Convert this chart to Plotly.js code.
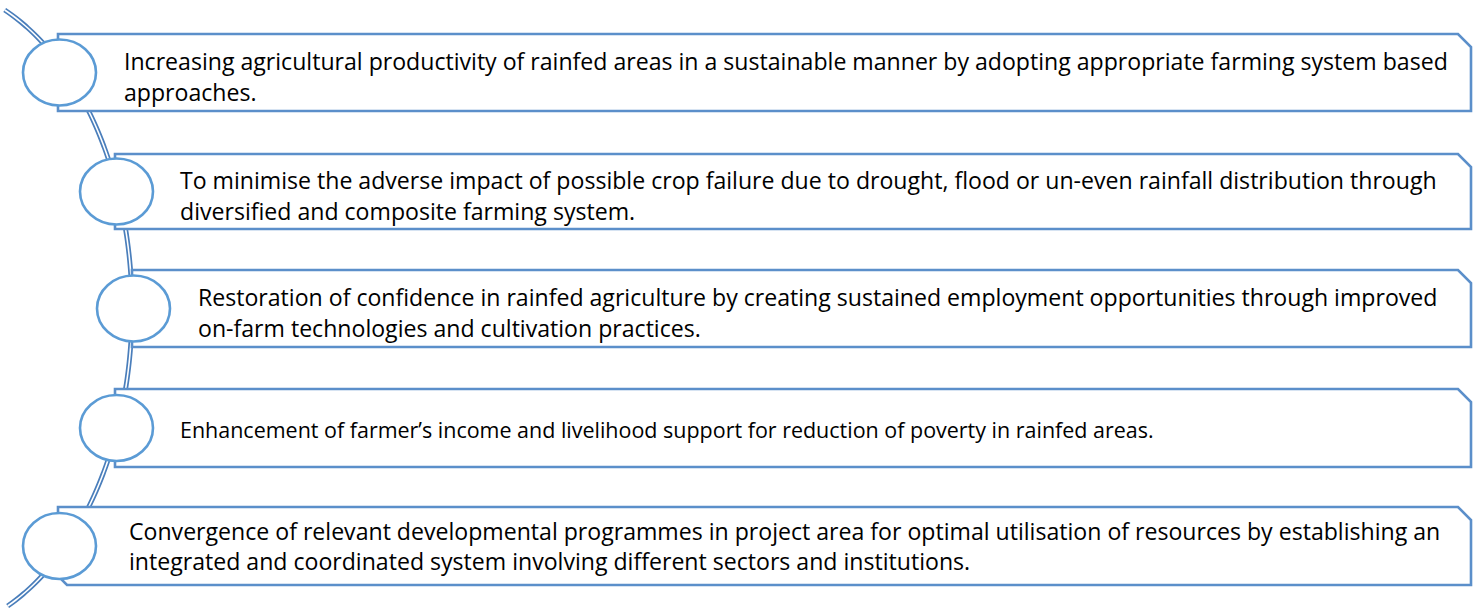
<!DOCTYPE html>
<html>
<head>
<meta charset="utf-8">
<script src="https://cdn.plot.ly/plotly-3.0.1.min.js"></script>
<style>html,body{margin:0;padding:0;background:#fff;}#chart{width:1476px;height:610px;}</style>
</head>
<body>
<div id="chart"></div>
<script>
// ---- Content (text of each objective, one entry per displayed line) ----
const objective1 = ["Increasing agricultural productivity of rainfed areas in a sustainable manner by adopting appropriate farming system based", "approaches."];
const objective2 = ["To minimise the adverse impact of possible crop failure due to drought, flood or un-even rainfall distribution through", "diversified and composite farming system."];
const objective3 = ["Restoration of confidence in rainfed agriculture by creating sustained employment opportunities through improved", "on-farm technologies and cultivation practices."];
const objective4 = ["Enhancement of farmer\u2019s income and livelihood support for reduction of poverty in rainfed areas."];
const objective5 = ["Convergence of relevant developmental programmes in project area for optimal utilisation of resources by establishing an", "integrated and coordinated system involving different sectors and institutions."];
const objectives = [objective1, objective2, objective3, objective4, objective5];

// ---- Layout geometry (pixels in a 1476 x 610 frame) ----
const boxLeft   = [58, 115, 132, 115, 58];
const boxTop    = [34, 154, 270, 389, 507];
const boxBottom = [111, 229, 347, 467, 585];
const textLeft  = [122, 178, 196, 178, 127];
const textShift = [4, 4, 4, 1, 0];
const textScale = [1, 1, 1, 0.93, 1];
const boxRight = 1471, snip = 13;
const circRx = 36.5, circRy = 33;
const lineGap = 30.5;
const fontFamily = "'Open Sans', sans-serif";
const refLineWidth = 1326; // measured width of the first line of objective 1

// fit font size so that the first line spans the same width as in the reference
const ctx = document.createElement("canvas").getContext("2d");
ctx.font = "100px 'Open Sans'";
const w100 = ctx.measureText(objective1[0]).width;
const fontSize = Math.round(100 * refLineWidth / w100 * 10) / 10;

const boxColor = "#5b8fca", circColor = "#5b9bd5", arcColor = "#4a7ebb";

const shapes = [];
const annotations = [];

// connector arc (ellipse segment, drawn as a double line)
const arcCx = -77.4, arcCy = 309, arcA = 209.4, arcB = 325;
let p = "";
for (let y = 10; y <= 606; y += 2) {
  const t = (y - arcCy) / arcB;
  const x = arcCx + arcA * Math.sqrt(Math.max(0, 1 - t * t));
  p += (p ? " L" : "M") + x.toFixed(2) + "," + y;
}
shapes.push({type: "path", path: p, xref: "x", yref: "y", line: {color: arcColor, width: 5}, layer: "above"});
shapes.push({type: "path", path: p, xref: "x", yref: "y", line: {color: "#ffffff", width: 1.6}, layer: "above"});

objectives.forEach((lines, i) => {
  const l = boxLeft[i], t = boxTop[i], b = boxBottom[i];
  let path = `M${l},${t} L${boxRight - snip},${t} L${boxRight},${t + snip} L${boxRight},${b}`;
  if (i === 4) path += ` L${l + 9},${b} L${l},${b - 9} Z`;
  else path += ` L${l},${b} Z`;
  shapes.push({type: "path", path: path, xref: "x", yref: "y", fillcolor: "#ffffff", line: {color: boxColor, width: 2.6}, layer: "above"});
  const cx = l + 1.5, cy = (t + b) / 2;
  shapes.push({type: "circle", xref: "x", yref: "y", x0: cx - circRx, x1: cx + circRx, y0: cy - circRy, y1: cy + circRy,
    fillcolor: "#ffffff", line: {color: circColor, width: 2.6}, layer: "above"});
  const n = lines.length;
  lines.forEach((txt, j) => {
    annotations.push({
      x: textLeft[i], y: cy + textShift[i] + (j - (n - 1) / 2) * lineGap, xref: "x", yref: "y",
      text: txt, showarrow: false, xanchor: "left", yanchor: "middle",
      font: {family: fontFamily, size: fontSize * textScale[i], color: "#000000"}
    });
  });
});

const layout = {
  width: 1476, height: 610,
  margin: {l: 0, r: 0, t: 0, b: 0},
  paper_bgcolor: "#ffffff", plot_bgcolor: "#ffffff",
  xaxis: {range: [0, 1476], visible: false, fixedrange: true},
  yaxis: {range: [610, 0], visible: false, fixedrange: true},
  showlegend: false,
  shapes: shapes,
  annotations: annotations
};
Plotly.newPlot("chart", [{x: [], y: [], type: "scatter", mode: "markers", hoverinfo: "skip"}], layout, {displayModeBar: false, staticPlot: true});
</script>
</body>
</html>
